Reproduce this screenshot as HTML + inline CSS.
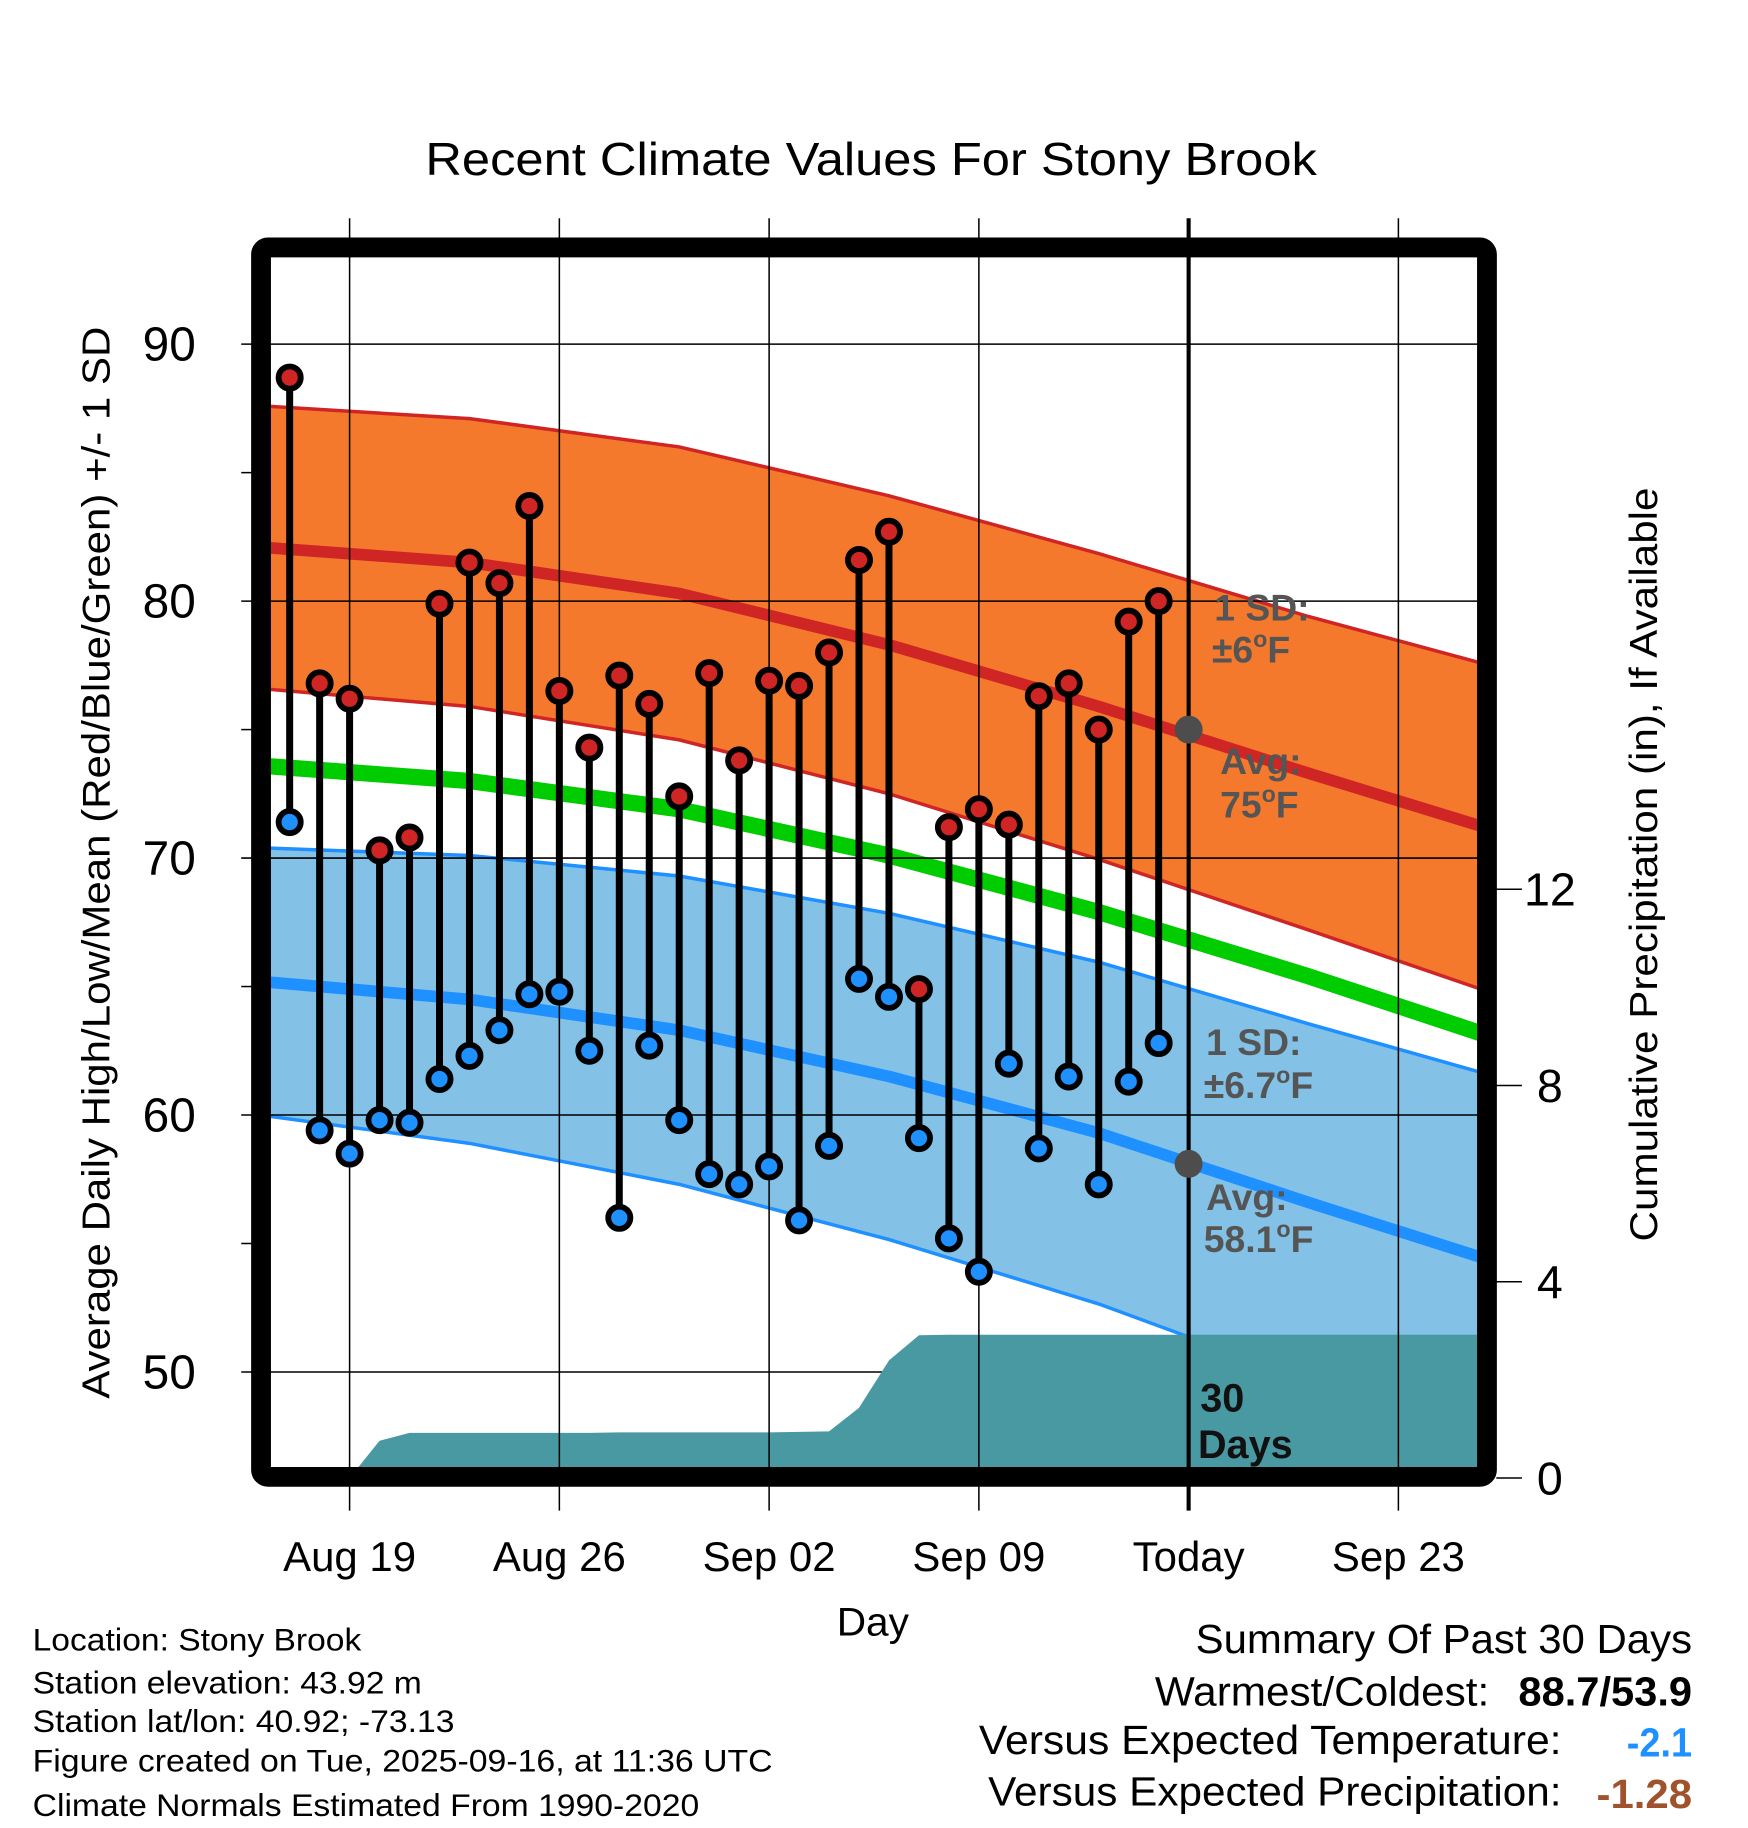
<!DOCTYPE html>
<html><head><meta charset="utf-8"><style>
html,body{margin:0;padding:0;background:#fff;}
svg{display:block;font-family:"Liberation Sans",Arial,sans-serif;}
</style></head><body>
<svg id="chart" width="1748" height="1828" viewBox="0 0 1500 1568" xmlns="http://www.w3.org/2000/svg">
<defs><clipPath id="plotclip"><rect x="232" y="220" width="1036" height="1040"/></clipPath></defs>
<text x="365" y="150" font-size="40" textLength="765" lengthAdjust="spacingAndGlyphs">Recent Climate Values For Stony Brook</text>
<g id="bands" clip-path="url(#plotclip)"></g>
<g id="grid"></g>
<g id="precip" clip-path="url(#plotclip)"></g>
<g id="gridtop"></g>
<g id="marks"></g>
<g id="labels" font-weight="bold" font-size="32" fill="#555">
<text x="1042" y="532">1 SD:</text>
<text x="1040" y="568">±6<tspan font-size="20" dy="-13">o</tspan><tspan dy="13">F</tspan></text>
<text x="1047" y="664">Avg:</text>
<text x="1047" y="701">75<tspan font-size="20" dy="-13">o</tspan><tspan dy="13">F</tspan></text>
<text x="1035" y="905">1 SD:</text>
<text x="1033" y="942">±6.7<tspan font-size="20" dy="-13">o</tspan><tspan dy="13">F</tspan></text>
<text x="1035" y="1038">Avg:</text>
<text x="1033" y="1074">58.1<tspan font-size="20" dy="-13">o</tspan><tspan dy="13">F</tspan></text>
<text x="1030" y="1211" fill="#111" font-size="34">30</text>
<text x="1028" y="1251" fill="#111" font-size="34">Days</text>
</g>
<rect x="224" y="212" width="1052" height="1055" rx="6" fill="none" stroke="#000" stroke-width="17"/>
<g id="axes"></g>
<text transform="translate(94,1200) rotate(-90)" font-size="33" textLength="920" lengthAdjust="spacingAndGlyphs">Average Daily High/Low/Mean (Red/Blue/Green) +/- 1 SD</text>
<text transform="translate(1422,1065) rotate(-90)" font-size="33" textLength="647" lengthAdjust="spacingAndGlyphs">Cumulative Precipitation (in), If Available</text>
<text x="718" y="1403" font-size="34" textLength="62" lengthAdjust="spacingAndGlyphs">Day</text>
<g font-size="27">
<text x="28" y="1416" textLength="282" lengthAdjust="spacingAndGlyphs">Location: Stony Brook</text>
<text x="28" y="1453" textLength="334" lengthAdjust="spacingAndGlyphs">Station elevation: 43.92 m</text>
<text x="28" y="1486" textLength="362" lengthAdjust="spacingAndGlyphs">Station lat/lon: 40.92; -73.13</text>
<text x="28" y="1520" textLength="635" lengthAdjust="spacingAndGlyphs">Figure created on Tue, 2025-09-16, at 11:36 UTC</text>
<text x="28" y="1558" textLength="572" lengthAdjust="spacingAndGlyphs">Climate Normals Estimated From 1990-2020</text>
</g>
<g font-size="35">
<text x="1026" y="1418" textLength="426" lengthAdjust="spacingAndGlyphs">Summary Of Past 30 Days</text>
<text x="991" y="1463" textLength="287" lengthAdjust="spacingAndGlyphs">Warmest/Coldest:</text>
<text x="1303" y="1463" font-weight="bold" textLength="149" lengthAdjust="spacingAndGlyphs">88.7/53.9</text>
<text x="840" y="1505" textLength="500" lengthAdjust="spacingAndGlyphs">Versus Expected Temperature:</text>
<text x="1396" y="1507" font-weight="bold" fill="#1e90ff" textLength="56" lengthAdjust="spacingAndGlyphs">-2.1</text>
<text x="848" y="1549" textLength="492" lengthAdjust="spacingAndGlyphs">Versus Expected Precipitation:</text>
<text x="1370" y="1551" font-weight="bold" fill="#a0522d" textLength="82" lengthAdjust="spacingAndGlyphs">-1.28</text>
</g>
</svg>
<script>
// ---- data ----
const days = ["Aug 17","Aug 18","Aug 19","Aug 20","Aug 21","Aug 22","Aug 23","Aug 24","Aug 25","Aug 26","Aug 27","Aug 28","Aug 29","Aug 30","Aug 31","Sep 01","Sep 02","Sep 03","Sep 04","Sep 05","Sep 06","Sep 07","Sep 08","Sep 09","Sep 10","Sep 11","Sep 12","Sep 13","Sep 14","Sep 15"];
const dayOffset = [-2,-1,0,1,2,3,4,5,6,7,8,9,10,11,12,13,14,15,16,17,18,19,20,21,22,23,24,25,26,27];
const highs = [88.7,76.8,76.2,70.3,70.8,79.9,81.5,80.7,83.7,76.5,74.3,77.1,76.0,72.4,77.2,73.8,76.9,76.7,78.0,81.6,82.7,64.9,71.2,71.9,71.3,76.3,76.8,75.0,79.2,80.0];
const lows = [71.4,59.4,58.5,59.8,59.7,61.4,62.3,63.3,64.7,64.8,62.5,56.0,62.7,59.8,57.7,57.3,58.0,55.9,58.8,65.3,64.6,59.1,55.2,53.9,62.0,58.7,61.5,57.3,61.3,62.8];
const precipCum = [0,0,0,0.76,0.92,0.92,0.92,0.92,0.92,0.92,0.92,0.93,0.93,0.93,0.93,0.93,0.93,0.94,0.95,1.43,2.40,2.91,2.92,2.92,2.92,2.92,2.92,2.92,2.92,2.92];
const normDays = [-3,4,11,18,25,32,39];
const normHigh = [82.1,81.5,80.3,78.3,75.9,73.3,70.8];
const normHighSD = [5.5,5.6,5.7,5.8,5.95,6.1,6.4];
const normMean = [73.6,73.0,71.9,70.1,67.9,65.4,62.7];
const normLow = [65.2,64.5,63.3,61.5,59.3,56.6,54.0];
const normLowSD = [5.2,5.6,6.0,6.35,6.65,6.95,7.25];
const yTicks = [50,60,70,80,90];
const yMinor = [55,65,75,85];
const y2Ticks = [0,4,8,12];
const xTickDays = [0,7,14,21,28,35];
const xTickLabels = ["Aug 19","Aug 26","Sep 02","Sep 09","Today","Sep 23"];
const todayDay = 28;

// ---- scales ----
const X = d => 300 + d*25.714;
const Y = t => 295 + (90-t)*22.05;
const Y2 = p => 1268 - p*42.1;
const NS = "http://www.w3.org/2000/svg";
function mk(tag, parent, attrs){const e=document.createElementNS(NS,tag);for(const k in attrs)e.setAttribute(k,attrs[k]);parent.appendChild(e);return e;}

const bands=document.getElementById('bands');
function bandPath(c, sd){
  let up=normDays.map((d,i)=>X(d).toFixed(1)+','+Y(c[i]+sd[i]).toFixed(1));
  let dn=normDays.map((d,i)=>X(d).toFixed(1)+','+Y(c[i]-sd[i]).toFixed(1)).reverse();
  return 'M'+up.join('L')+'L'+dn.join('L')+'Z';
}
function linePath(vals){return 'M'+normDays.map((d,i)=>X(d).toFixed(1)+','+Y(vals[i]).toFixed(1)).join('L');}
let hb=mk('path',bands,{d:bandPath(normHigh,normHighSD),fill:'#f5792d'});


let hu=mk('path',bands,{d:linePath(normHigh.map((v,i)=>v+normHighSD[i])),fill:'none',stroke:'#d02525','stroke-width':3});


let hl=mk('path',bands,{d:linePath(normHigh.map((v,i)=>v-normHighSD[i])),fill:'none',stroke:'#d02525','stroke-width':3});


let lb=mk('path',bands,{d:bandPath(normLow,normLowSD),fill:'#83c1e6'});


let lu=mk('path',bands,{d:linePath(normLow.map((v,i)=>v+normLowSD[i])),fill:'none',stroke:'#1e90ff','stroke-width':3});


let ll=mk('path',bands,{d:linePath(normLow.map((v,i)=>v-normLowSD[i])),fill:'none',stroke:'#1e90ff','stroke-width':3});


let hm=mk('path',bands,{d:linePath(normHigh),fill:'none',stroke:'#d02525','stroke-width':10});


let mm=mk('path',bands,{d:linePath(normMean),fill:'none',stroke:'#00cc00','stroke-width':14});


let lm=mk('path',bands,{d:linePath(normLow),fill:'none',stroke:'#1e90ff','stroke-width':10});



// precip
const pg=document.getElementById('precip');
let pts=[];
let first=dayOffset.findIndex((d,i)=>i+1<precipCum.length && precipCum[i+1]>0);
for(let i=first;i<dayOffset.length;i++) pts.push(X(dayOffset[i]).toFixed(1)+','+Y2(precipCum[i]).toFixed(1));
pts.push('1270,'+Y2(precipCum[precipCum.length-1]).toFixed(1));
let pp=mk('path',pg,{d:'M'+pts.join('L')+'L1270,1270L'+X(dayOffset[first]).toFixed(1)+',1270Z',fill:'#4899a1'});



// grid
const grid=document.getElementById('grid');
yTicks.forEach(t=>{
  let l=mk('line',grid,{x1:207,x2:1268,y1:Y(t),y2:Y(t),stroke:'#000','stroke-width':1.3});
  
  
});
const gt=document.getElementById('gridtop');
xTickDays.forEach((d,i)=>{
  if(d===todayDay) return;
  let l=mk('line',gt,{x1:X(d),x2:X(d),y1:187,y2:1296,stroke:'#000','stroke-width':1.3});
  
  
});
let tl=mk('line',gt,{x1:X(todayDay),x2:X(todayDay),y1:187,y2:1296,stroke:'#000','stroke-width':3.5});



// marks
const mg=document.getElementById('marks');
days.forEach((lab,i)=>{
  const x=X(dayOffset[i]);
  let s=mk('line',mg,{x1:x,x2:x,y1:Y(highs[i]),y2:Y(lows[i]),stroke:'#000','stroke-width':6});
  
  
});
days.forEach((lab,i)=>{
  const x=X(dayOffset[i]);
  let h=mk('circle',mg,{cx:x,cy:Y(highs[i]),r:9.5,fill:'#d02525',stroke:'#000','stroke-width':5});
  
  
  let l=mk('circle',mg,{cx:x,cy:Y(lows[i]),r:9.5,fill:'#1e90ff',stroke:'#000','stroke-width':5});
  
  
});
let th=mk('circle',mg,{cx:X(todayDay),cy:Y(75),r:12,fill:'#4d4d4d'});


let tlo=mk('circle',mg,{cx:X(todayDay),cy:Y(58.1),r:12,fill:'#4d4d4d'});



// axes labels
const ax=document.getElementById('axes');
yTicks.forEach(t=>{
  let tx=mk('text',ax,{x:168,y:Y(t)+14,'font-size':41,'text-anchor':'end'});
  tx.textContent=t;
  
  
});
yMinor.forEach(t=>{
  let l=mk('line',ax,{x1:207,x2:217,y1:Y(t),y2:Y(t),stroke:'#000','stroke-width':1.3});
  
  
});
y2Ticks.forEach(p=>{
  let l=mk('line',ax,{x1:1284,x2:1306,y1:Y2(p),y2:Y2(p),stroke:'#000','stroke-width':1.3});
  
  
  let tx=mk('text',ax,{x:1330,y:Y2(p)+14,'font-size':40,'text-anchor':'middle'});
  tx.textContent=p;
  
  
});
xTickDays.forEach((d,i)=>{
  let tx=mk('text',ax,{x:X(d),y:1348,'font-size':36,'text-anchor':'middle'});
  tx.textContent=xTickLabels[i];
  
  
});
</script>
</body></html>
